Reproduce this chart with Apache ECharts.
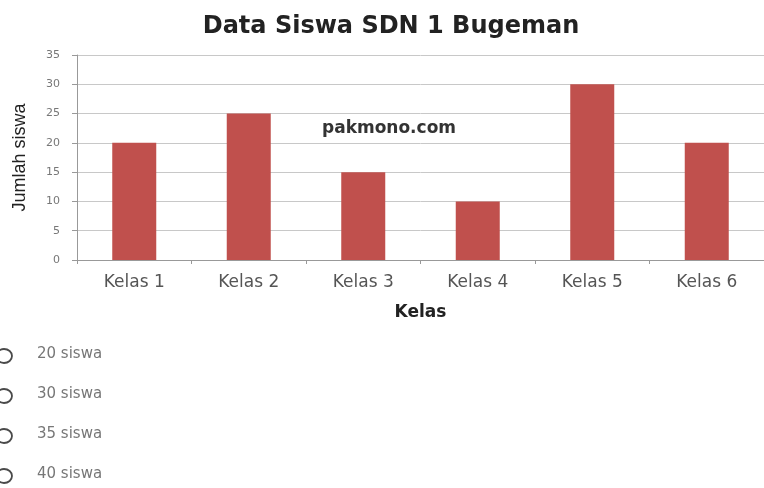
<!DOCTYPE html>
<html>
<head>
<meta charset="utf-8">
<script src="https://cdn.jsdelivr.net/npm/echarts@6/dist/echarts.min.js"></script>
<style>html,body{margin:0;padding:0;background:#fff}#c{width:764px;height:488px}</style>
</head>
<body>
<div id="c"></div>
<script>
var categories = ['Kelas 1','Kelas 2','Kelas 3','Kelas 4','Kelas 5','Kelas 6'];
var values = [20, 25, 15, 10, 30, 20];
var yTicks = [0, 5, 10, 15, 20, 25, 30, 35];
var answerOptions = ['20 siswa','30 siswa','35 siswa','40 siswa'];
var titleText = 'Data Siswa SDN 1 Bugeman';
var watermark = 'pakmono.com';

var chart = echarts.init(document.getElementById('c'));
var optY = [356, 396, 436, 476];
var graphics = [{
  type: 'text', left: 322, top: 120,
  style: { text: watermark, font: 'bold 17px "DejaVu Sans", sans-serif', fill: '#333' }
}];
answerOptions.forEach(function (t, i) {
  graphics.push({ type: 'ellipse', shape: { cx: 4, cy: optY[i], rx: 8, ry: 7 },
    style: { fill: '#fff', stroke: '#4a4a4a', lineWidth: 1.8 } });
  graphics.push({ type: 'text', left: 37, top: optY[i] - 9,
    style: { text: t, font: '15px "DejaVu Sans", sans-serif', fill: '#777' } });
});

chart.setOption({
  animation: false,
  title: { text: titleText, left: 386, textAlign: 'center', top: 10,
    textStyle: { fontFamily: 'DejaVu Sans', fontWeight: 'bold', fontSize: 24, color: '#222' } },
  grid: { left: 77, top: 55, width: 689, height: 205, containLabel: false },
  xAxis: {
    type: 'category', data: categories,
    name: 'Kelas', nameLocation: 'middle', nameGap: 44,
    nameTextStyle: { fontFamily: 'DejaVu Sans', fontWeight: 'bold', fontSize: 17, color: '#222' },
    axisLine: { lineStyle: { color: '#999' } },
    axisTick: { show: true, length: 4, lineStyle: { color: '#999' } },
    axisLabel: { fontFamily: 'DejaVu Sans', fontSize: 17, color: '#555', margin: 14 }
  },
  yAxis: {
    type: 'value', min: 0, max: 35, interval: 5,
    name: 'Jumlah siswa', nameLocation: 'middle', nameGap: 48, nameRotate: 90,
    nameTextStyle: { fontFamily: 'Liberation Sans', fontSize: 18, color: '#222' },
    axisLine: { show: true, lineStyle: { color: '#999' } },
    axisTick: { show: true, length: 5, lineStyle: { color: '#999' } },
    axisLabel: { fontFamily: 'DejaVu Sans', fontSize: 11, color: '#777', margin: 17 },
    splitLine: { lineStyle: { color: '#c8c8c8' } }
  },
  series: [{
    type: 'bar', data: values, barWidth: 44,
    itemStyle: { color: '#C0504D' }
  }],
  graphic: graphics
});
</script>
</body>
</html>
